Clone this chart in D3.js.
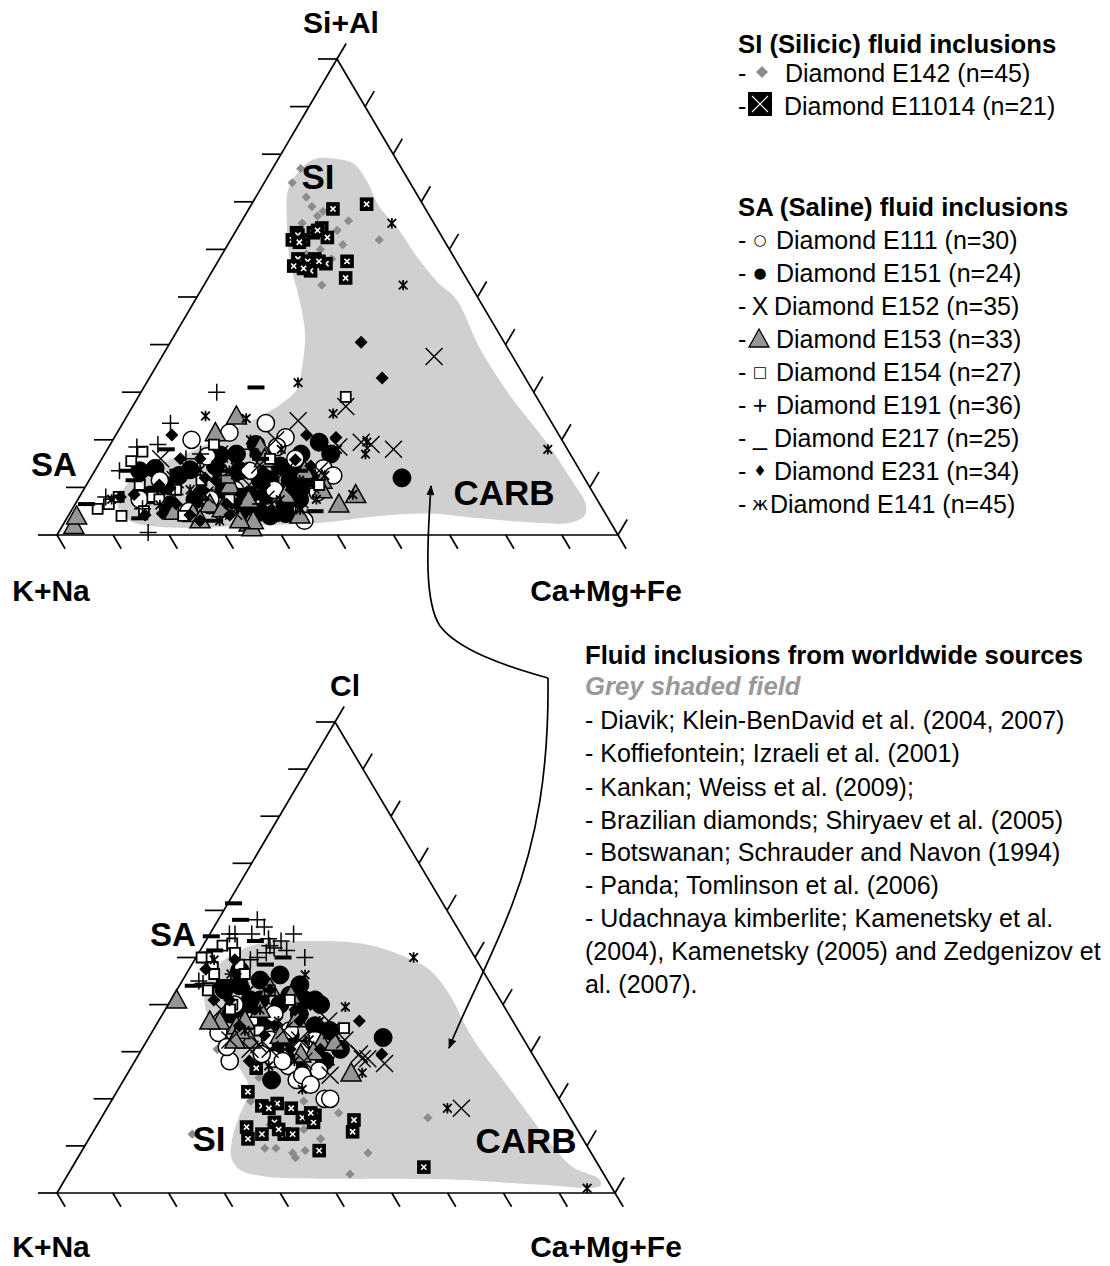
<!DOCTYPE html>
<html><head><meta charset="utf-8">
<script src="https://cdn.jsdelivr.net/npm/d3@7"></script>
<style>
body{margin:0;background:#fff}
text{font-family:"Liberation Sans",Arial,Helvetica,sans-serif;fill:#000}
</style>
</head><body>
<svg id="chart" width="1110" height="1266"></svg>
<script>
// ---------------- DATA (ternary compositions, %) ----------------
// each point = [top component, right component]; left component = 100 - top - right
// Top diagram: top = Si+Al, left = K+Na, right = Ca+Mg+Fe
// Bottom diagram: top = Cl, left = K+Na, right = Ca+Mg+Fe
const seriesNames = ["E142","E11014","E151","E111","E153","E152","E154","E191","E217","E231","E141"];

const top_E142 = [[77,5],[74,5],[71,9],[69,11],[68,13.5],[67,13],[65.5,11],[66,19],[64,18],[62,26.5],[60,17],[61,20.5],[52.5,21],[63,14],[59,15],[58,20],[57,15],[64,15]];
const top_E11014 = [[68.5,15],[69.5,20.5],[63.5,11],[63.5,14],[64.5,15],[62.5,17],[62,11],[62,13],[58,14],[58,17],[57,19.5],[56.5,14],[55.5,17.5],[57.5,23],[54,24.5],[57.5,16],[63,11.5],[64,14.5],[56,16],[57.5,18],[61.5,12.5]];
const top_E151 = [[19.5,37],[12,55.5],[4.5,38.5],[14,10.5],[13.5,25.8],[11.5,30.5],[14.5,32.5],[17,35],[9.5,25],[8.5,33],[7.5,39.5],[8.5,21.5],[12.5,15.5],[12,39],[5,31],[14.5,21],[11.5,35.8],[19,26],[10.5,14],[17,23.5],[4,36],[13.5,8],[17,40.3],[6.3,24.1],[11.6,25.1],[8.4,30.2],[11.6,32.2],[7.4,28],[6.3,37.5],[7.4,20.9],[4.8,33.8],[9.5,38.6],[13.7,16.9],[16.8,20.7],[8.4,12.4],[6.3,17],[13.7,35.6]];
const top_E111 = [[23.5,25.5],[20,14],[21.5,20],[20.5,30.5],[14,40.5],[12.5,43],[9,42],[16.5,18.5],[18.5,30],[11.5,12.6],[13.5,27.6],[16,34.5],[7.5,23.6],[7.5,11],[9.5,34],[5,21],[9.5,27],[3,42.6]];
const top_E153 = [[2,2],[4,1.5],[25,19.5],[21.5,17.5],[4.5,22],[2.5,33],[6.5,47],[8.5,49],[11.5,41.5],[9.5,42.5],[18.5,27],[1.5,34],[3,33.5],[6.5,24],[16,29],[8.5,36.5],[13.5,37.4],[5,18.4],[10.5,25.6],[7.5,30.4],[4.2,41.2],[12.6,23.7],[3.2,23.9],[3.2,31],[5.5,26.7]];
const top_E152 = [[37.5,48.5],[27,38],[24,31],[18.5,41],[19.5,44.5],[19,46.5],[18,51],[17,20.5],[10.5,29],[13.5,34],[10.5,40],[5,29],[13.5,17],[13.5,40],[7.5,33.5],[16,10.5],[20,29],[13.5,25.8],[8.4,22.2],[14.7,28.8],[7.4,39.6],[11.6,15.3]];
const top_E154 = [[29,37],[17.5,6.5],[8,7],[5.5,4.5],[4,9.5],[8,13],[4,20.5],[10.5,9.5],[6.5,6],[7.5,14.5],[11.5,20],[15.5,5.5],[7.5,27],[9.5,16.5],[16,30],[10.5,41.5],[5,13],[19,18.5]];
const top_E191 = [[30,13.5],[23.5,8.5],[18.5,5],[19,8.5],[5.5,12.5],[0.5,16],[13.5,4.4],[16,15],[12.5,23],[18,25.5],[8.5,16.8],[9.5,21.7],[6.5,33],[12.5,9.4],[8,4.7],[17,17.1],[6.5,39.3]];
const top_E217 = [[31,20],[11.5,8],[6.5,2],[3.5,13],[5,43.5],[13.5,5.8],[13.5,14.8],[7.5,21.8],[13.5,24],[16,28.3],[6.5,38.6],[3,26.6],[18,10.5],[13.5,36.5],[9.5,28.8]];
const top_E231 = [[40.5,34],[33,41.5],[21,34],[20.5,39.5],[21,10],[16,14],[4.5,16.5],[13.5,10],[16,17.5],[11.5,22.5],[8.5,28.5],[13.5,30],[9.5,37],[8.5,9.5],[6.5,18],[17,27],[6.5,27],[14.5,38],[3,24],[10.5,13],[4,37.5],[8,7.3],[4.2,13.6],[4.2,21.6],[4.2,28.7],[12,20.4],[10.5,31.8],[15.8,34.6],[9.9,15.2]];
const top_E141 = [[65.5,27],[52.5,35.5],[32,27],[18,78.5],[25,14],[24.5,21.5],[25.5,36.5],[19.5,45.5],[17,46.5],[8.5,48.5],[18,31],[13.5,24],[11.5,37.5],[12.5,41.5],[7.5,6],[6.5,35],[9.5,19],[20,24.5],[7.5,42.5],[18,41],[3,27.5],[15.8,23.9],[13.7,18.7],[7.4,36.1],[6.3,15.2],[5.3,40.7]];

const bot_E142 = [[30.5,13.5],[24.5,24],[19.5,34.5],[17,42],[16,58.5],[9.5,32.5],[9.5,34.5],[8.5,38],[7.5,39],[9,40],[8.5,51.5],[4,50.5],[13.5,37.5],[12.5,18],[19.5,25],[14.5,31],[11.5,41.5]];
const bot_E11014 = [[26.5,22.5],[21.5,23.5],[18.5,27.5],[19,30],[18,33],[16,36],[16.5,38],[15,38.5],[15.5,45.5],[13,46.5],[14,27],[11.5,28.5],[12.5,30.5],[15,31.5],[12.5,34.5],[12.5,36],[9,42.5],[5.5,63],[18,29],[13.5,33],[17,37]];
const bot_E151 = [[33,42],[24,26.5],[42,20.8],[41,24],[40,20],[38,24.5],[35.5,28.5],[33.5,25.1],[36.5,19],[40,27.3],[28,28.6],[30.5,35.6],[41,16],[39,14.3],[31.5,29.7],[30.5,23.9],[28,34],[44,10.8],[38,12.2],[34.5,31.7],[26,30.5],[47.3,9.2],[45.2,13.9],[46.3,16.9],[44.2,21.5],[41,14.2],[41,25.8],[43.1,8.5]];
const bot_E111 = [[34,12],[28,17],[28.5,24.5],[27,28],[24,31],[20,38],[20,39],[26,34],[28,26.5],[25,31.5],[29.5,22],[36.5,16.3],[32.5,22],[40,11.9],[34.5,24.5],[30.5,28.4],[38,20],[32.5,30],[23,34],[31,15]];
const bot_E153 = [[41,1],[25.5,40],[36.5,11],[35.5,14.5],[32,31.5],[32,33.8],[30,31],[43.5,16.5],[37,24.5],[32.5,18.4],[33.5,23.3],[29.5,29],[39,17],[34.5,15.6],[42,21],[36.5,9.2],[32.5,15.7],[36.7,15.4]];
const bot_E152 = [[18,63.5],[28.5,40.5],[27.5,45],[36.5,30.5],[29.5,39.5],[34.5,32],[28.5,41.5],[30.5,23],[32.5,27.3],[30.5,19.4],[32.5,14.8],[32.5,35.4],[28,30.3],[34.5,23.5],[39,10],[25,36.5],[31.5,20.5]];
const bot_E154 = [[35,34],[52.5,3.5],[50,2],[48,4],[43.5,5.5],[40,11.5],[50,1],[53,5],[46.5,5],[43,5.6],[48.5,8.5],[51,6.5],[39,11.6],[34.5,19.1],[41,21.3],[46.5,10.5],[43,16.7]];
const bot_E191 = [[58,7],[55,7.5],[55,15],[50,19.5],[53.5,13.5],[55,4.5],[44.5,4],[52,13],[56.5,9],[54,11],[51,12.1],[49.5,10],[55,3.5],[52.5,12],[50,11],[46.5,8.4],[45,3],[45,10.3],[51.5,15.5]];
const bot_E217 = [[61.5,1],[54.5,0.5],[44,2.5],[50,15.6],[58,4],[48.5,13.2],[45,7.6],[41,14.2],[44,21.5],[51.5,2.6],[31.5,24.3],[34.5,29.9],[53.5,8.9]];
const bot_E231 = [[36.5,36],[29.5,43.5],[41,10.5],[39,16],[35.5,15],[41,19.5],[36.5,25.3],[44,7],[33.5,20.5],[30.5,32],[30.5,26.6],[47.5,3],[43,12.2],[40,25.5],[35.5,21.3],[33.5,32.2],[28,20.5],[49.5,7.2],[43.1,16.7],[38.9,23.3],[41,7.7]];
const bot_E141 = [[50,39],[39.5,32],[18,61],[1,94.5],[25.5,42],[22,33],[49.5,3.5],[43,13],[36.5,21.5],[32.5,29],[28,35],[41,17],[46.5,8],[28,28.6],[34.5,16.5],[36.5,28.9],[27,24.5],[38.9,17],[46.3,21.4]];

// grey shaded fields (worldwide sources), outline as compositions [top, right]
const topField = [[79,10.5],[78,14],[74.5,18],[69,23],[64.5,28.5],[58,35.5],[53,41.5],[49.5,46.5],[39,56],[28.5,67],[19.5,77.5],[11.5,86],[6.5,91],[4,92],[2.5,90],[2.5,85.5],[3.5,73.5],[4.5,64],[4,55.5],[2.5,45.5],[2,33.5],[1.5,21],[3,11.5],[6.5,7.5],[9.5,7],[13,8.5],[16,12.5],[18,16],[22,20],[25,24],[28,26.5],[30.5,27.5],[35.5,26],[42.5,23],[49.5,18.5],[58,12.5],[67,7.5],[72.5,5],[76.5,5],[79,6.5]];
const botField = [[50.5,6],[53,10],[53.5,17],[53,28],[50.5,36.5],[47.5,43],[42,49.5],[35,56],[29.7,61.5],[24,68],[18.3,74.4],[9,85],[5.5,89.7],[2.8,95.9],[1.5,96.6],[1.8,85],[2.8,70.3],[3,50.5],[3.5,35.5],[4.9,30.4],[7.5,27.5],[12,25.5],[16.5,24.5],[22,23.5],[27,19],[32.5,13.5],[38,8],[42,5.5],[47,4.5]];

const tickValues = [0,10,20,30,40,50,60,70,80,90,100];

// legend texts
const siLegendTitle = "SI (Silicic) fluid inclusions";
const siLegendLabels = ["Diamond E142 (n=45)","Diamond E11014 (n=21)"];
const saLegendTitle = "SA (Saline) fluid inclusions";
const saLegendGlyphs = ["\u25CB","\u25CF","X","\u25B2","\u25A1","+","_","\u2666","\u0436"];
const saLegendLabels = ["Diamond E111 (n=30)","Diamond E151 (n=24)","Diamond E152 (n=35)","Diamond E153 (n=33)","Diamond E154 (n=27)","Diamond E191 (n=36)","Diamond E217 (n=25)","Diamond E231 (n=34)","Diamond E141 (n=45)"];
const worldTitle = "Fluid inclusions from worldwide sources";
const worldSubtitle = "Grey shaded field";
const worldLines = ["- Diavik; Klein-BenDavid et al. (2004, 2007)","- Koffiefontein; Izraeli et al. (2001)","- Kankan; Weiss et al. (2009);","- Brazilian diamonds; Shiryaev et al. (2005)","- Botswanan; Schrauder and Navon (1994)","- Panda; Tomlinson et al. (2006)","- Udachnaya kimberlite; Kamenetsky et al.","(2004), Kamenetsky (2005) and Zedgenizov et","al. (2007)."];

// ---------------- DRAWING ----------------
const svg = d3.select("#chart");

const SYM = {
  circle: r => d3.symbol(d3.symbolCircle, Math.PI * r * r)(),
  diamond: r => `M0,${-r}L${r},0L0,${r}L${-r},0Z`,
  square: r => `M${-r},${-r}H${r}V${r}H${-r}Z`,
  tri: r => `M0,${-r}L${r},${r * 0.8}L${-r},${r * 0.8}Z`,
  x: r => `M${-r},${-r}L${r},${r}M${r},${-r}L${-r},${r}`,
  plus: r => `M${-r},0H${r}M0,${-r}V${r}`,
  minus: r => `M${-r},0H${r}`,
  zh: r => `M${-r},${-r}L${r},${r}M${r},${-r}L${-r},${r}M0,${-r * 1.2}V${r * 1.2}`
};
const STYLE = {
  E142:   {d: SYM.diamond(4.6), fill: "#8c8c8c", stroke: "none", sw: 0},
  E11014: {d: SYM.square(6.8), fill: "#000", stroke: "none", sw: 0, inner: SYM.x(2.6)},
  E151:   {d: SYM.circle(9), fill: "#000", stroke: "#000", sw: 1},
  E111:   {d: SYM.circle(8.6), fill: "#fff", stroke: "#000", sw: 1.5},
  E153:   {d: SYM.tri(10), fill: "#969696", stroke: "#000", sw: 1.5},
  E152:   {d: SYM.x(8.5), fill: "none", stroke: "#000", sw: 1.4},
  E154:   {d: SYM.square(5), fill: "#fff", stroke: "#000", sw: 1.8},
  E191:   {d: SYM.plus(8.5), fill: "none", stroke: "#000", sw: 1.5},
  E217:   {d: SYM.minus(8.5), fill: "none", stroke: "#000", sw: 4},
  E231:   {d: SYM.diamond(6.5), fill: "#000", stroke: "none", sw: 0},
  E141:   {d: SYM.zh(4.3), fill: "none", stroke: "#000", sw: 1.8}
};

function drawTernary(cfg) {
  const {A, L, R} = cfg;
  const yT = d3.scaleLinear().domain([0, 100]).range([L[1], A[1]]);
  const xT = d3.scaleLinear().domain([0, 100]).range([0, A[0] - L[0]]);
  const xC = d3.scaleLinear().domain([0, 100]).range([L[0], R[0]]);
  const pos = (t, c) => [xC(c) + xT(t), yT(t)];
  const g = svg.append("g");

  g.append("path")
    .attr("d", d3.line().curve(d3.curveCatmullRomClosed.alpha(0.5))(cfg.field.map(p => pos(p[0], p[1]))))
    .attr("fill", "#d0d0d0");

  g.append("path")
    .attr("d", d3.line()([pos(100, 0), pos(0, 0), pos(0, 100)]) + "Z")
    .attr("fill", "none").attr("stroke", "#000").attr("stroke-width", 1.7).attr("stroke-linejoin", "miter");

  const unit = (p, q, len) => { const dx = q[0] - p[0], dy = q[1] - p[1], n = Math.hypot(dx, dy); return [dx / n * len, dy / n * len]; };
  const upLeft = unit(L, A, 18);
  const downRight = unit(A, R, 16);
  const tk = g.append("g").attr("stroke", "#000").attr("stroke-width", 1.7);
  tk.selectAll(".tl").data(tickValues).join("line")
    .attr("x1", d => pos(d, 0)[0]).attr("y1", d => pos(d, 0)[1])
    .attr("x2", d => pos(d, 0)[0] - 19).attr("y2", d => pos(d, 0)[1]);
  tk.selectAll(".tr").data(tickValues).join("line")
    .attr("x1", d => pos(d, 100 - d)[0]).attr("y1", d => pos(d, 100 - d)[1])
    .attr("x2", d => pos(d, 100 - d)[0] + upLeft[0]).attr("y2", d => pos(d, 100 - d)[1] + upLeft[1]);
  tk.selectAll(".tb").data(tickValues).join("line")
    .attr("x1", d => pos(0, d)[0]).attr("y1", d => pos(0, d)[1])
    .attr("x2", d => pos(0, d)[0] + downRight[0]).attr("y2", d => pos(0, d)[1] + downRight[1]);

  seriesNames.forEach(name => {
    const st = STYLE[name];
    const data = cfg.series[name];
    const sg = g.append("g");
    const pts = sg.selectAll("g").data(data).join("g")
      .attr("transform", d => `translate(${pos(d[0], d[1])})`);
    pts.append("path").attr("d", st.d).attr("fill", st.fill)
      .attr("stroke", st.stroke).attr("stroke-width", st.sw);
    if (st.inner) pts.append("path").attr("d", st.inner).attr("stroke", "#fff").attr("stroke-width", 1.6).attr("fill", "none");
  });

  cfg.labels.forEach(lb => {
    g.append("text").attr("x", lb.x).attr("y", lb.y).attr("dy", "0.36em")
      .attr("text-anchor", "middle").attr("font-weight", "bold").attr("font-size", lb.size)
      .text(lb.text);
  });
}

drawTernary({
  A: [337, 59], L: [57, 535], R: [618, 535],
  field: topField,
  series: {E142: top_E142, E11014: top_E11014, E151: top_E151, E111: top_E111, E153: top_E153,
           E152: top_E152, E154: top_E154, E191: top_E191, E217: top_E217, E231: top_E231, E141: top_E141},
  labels: [
    {text: "Si+Al", x: 341, y: 22, size: 30},
    {text: "K+Na", x: 51, y: 590, size: 30},
    {text: "Ca+Mg+Fe", x: 606, y: 590, size: 30},
    {text: "SI", x: 318, y: 176, size: 35},
    {text: "SA", x: 54, y: 464, size: 33},
    {text: "CARB", x: 504, y: 492, size: 35}
  ]
});

drawTernary({
  A: [335, 722], L: [57, 1193], R: [615, 1193],
  field: botField,
  series: {E142: bot_E142, E11014: bot_E11014, E151: bot_E151, E111: bot_E111, E153: bot_E153,
           E152: bot_E152, E154: bot_E154, E191: bot_E191, E217: bot_E217, E231: bot_E231, E141: bot_E141},
  labels: [
    {text: "Cl", x: 345, y: 685, size: 30},
    {text: "K+Na", x: 51, y: 1246, size: 30},
    {text: "Ca+Mg+Fe", x: 606, y: 1246, size: 30},
    {text: "SA", x: 173, y: 934, size: 33},
    {text: "SI", x: 209, y: 1138, size: 35},
    {text: "CARB", x: 526, y: 1140, size: 35}
  ]
});

// ---------------- ARROW ----------------
const defs = svg.append("defs");
defs.append("marker").attr("id", "ah").attr("viewBox", "0 0 10 8").attr("refX", 9).attr("refY", 4)
  .attr("markerWidth", 11).attr("markerHeight", 8).attr("markerUnits", "userSpaceOnUse").attr("orient", "auto")
  .append("path").attr("d", "M0,0L10,4L0,8Z").attr("fill", "#000");
svg.append("path")
  .attr("d", "M548,678 C505,666 458,650 440,626 C424,602 427,545 431,486")
  .attr("fill", "none").attr("stroke", "#000").attr("stroke-width", 1.7).attr("marker-end", "url(#ah)");
svg.append("path")
  .attr("d", "M548,678 C549,770 537,840 512,905 C492,958 466,1005 449,1048")
  .attr("fill", "none").attr("stroke", "#000").attr("stroke-width", 1.7).attr("marker-end", "url(#ah)");

// ---------------- LEGENDS ----------------
const leg = svg.append("g");
const RF = 25, BF = 25.7;
leg.append("text").attr("x", 738).attr("y", 44).attr("dy", "0.36em").attr("font-weight", "bold").attr("font-size", BF).text(siLegendTitle);
leg.append("text").attr("x", 738).attr("y", 73).attr("dy", "0.36em").attr("font-size", RF).text("-");
leg.append("path").attr("d", SYM.diamond(6)).attr("transform", "translate(762,72)").attr("fill", "#8c8c8c");
leg.append("text").attr("x", 785).attr("y", 73).attr("dy", "0.36em").attr("font-size", RF).text(siLegendLabels[0]);
leg.append("text").attr("x", 738).attr("y", 106).attr("dy", "0.36em").attr("font-size", RF).text("-");
leg.append("path").attr("d", SYM.square(12)).attr("transform", "translate(760,104)").attr("fill", "#000");
leg.append("path").attr("d", SYM.x(8)).attr("transform", "translate(760,104)").attr("stroke", "#fff").attr("stroke-width", 1.2);
leg.append("text").attr("x", 784).attr("y", 106).attr("dy", "0.36em").attr("font-size", RF).text(siLegendLabels[1]);

leg.append("text").attr("x", 738).attr("y", 207).attr("dy", "0.36em").attr("font-weight", "bold").attr("font-size", BF).text(saLegendTitle);
const saY = [239.5, 272.5, 305.5, 338.5, 371.5, 404.5, 437.5, 470.5, 503.5];
const saLabelX = [776, 776, 774, 776, 776, 776, 774, 774, 770];
saLegendLabels.forEach((lab, i) => {
  leg.append("text").attr("x", 738).attr("y", saY[i]).attr("dy", "0.36em").attr("font-size", RF).text("-");
  if (i === 3) {
    leg.append("path").attr("d", SYM.tri(10)).attr("transform", `translate(759,${saY[i] + 0.5})`)
      .attr("fill", "#969696").attr("stroke", "#000").attr("stroke-width", 1.3);
  } else {
    const gl = saLegendGlyphs[i];
    const fs = (gl === "X" || gl === "+" || gl === "_") ? RF : (gl === "\u0436" ? 18 : 15);
    leg.append("text").attr("x", 760).attr("y", saY[i]).attr("dy", gl === "_" ? "0.3em" : "0.36em")
      .attr("text-anchor", "middle").attr("font-size", fs)
      .style("font-family", gl === "X" || gl === "+" || gl === "_" ? null : "'DejaVu Sans',sans-serif")
      .text(gl);
  }
  leg.append("text").attr("x", saLabelX[i]).attr("y", saY[i]).attr("dy", "0.36em").attr("font-size", RF).text(lab);
});

leg.append("text").attr("x", 585).attr("y", 655).attr("dy", "0.36em").attr("font-weight", "bold").attr("font-size", BF).text(worldTitle);
leg.append("text").attr("x", 585).attr("y", 686).attr("dy", "0.36em").attr("font-weight", "bold").attr("font-style", "italic")
  .attr("font-size", BF).style("fill", "#999").text(worldSubtitle);
const wY = [720, 753, 786.5, 819.5, 852, 885, 918, 951, 984];
worldLines.forEach((t, i) => {
  leg.append("text").attr("x", 585).attr("y", wY[i]).attr("dy", "0.36em").attr("font-size", RF).text(t);
});
</script>
</body></html>
